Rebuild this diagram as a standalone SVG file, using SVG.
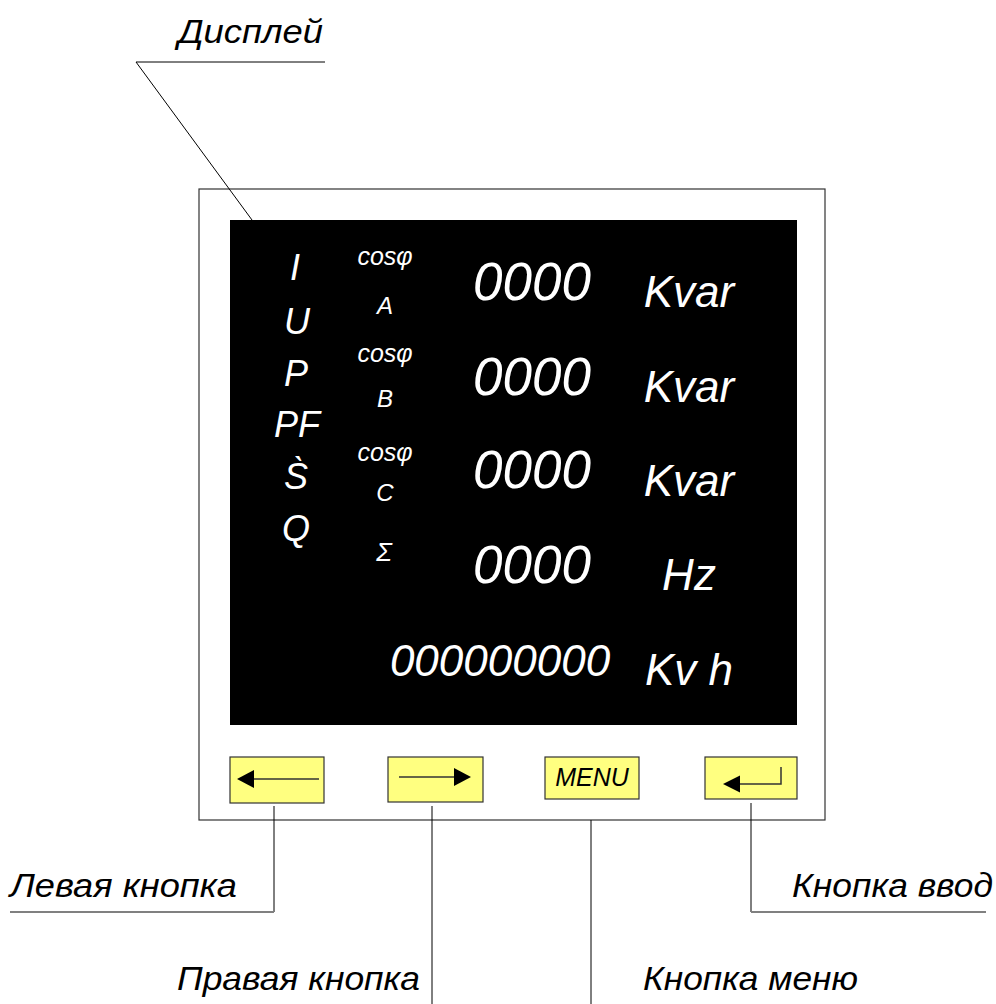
<svg xmlns="http://www.w3.org/2000/svg" width="996" height="1004" viewBox="0 0 996 1004">
<style>
.lbl{font-family:"Liberation Sans",Arial,sans-serif;font-style:italic;font-size:33px;fill:#000}
.w{font-family:"Liberation Sans",Arial,sans-serif;font-style:italic;fill:#fff;text-anchor:middle}
.btn{fill:#ffff80;stroke:#333;stroke-width:1.2}
.ld{stroke:#000;stroke-width:1;fill:none}
.ul{stroke:#808080;stroke-width:2;fill:none}
.ar{stroke:#333;stroke-width:1.5;fill:none}
.head{fill:#000}
</style>
<rect width="996" height="1004" fill="#fff"/>
<g id="panel">
<rect x="199" y="189" width="626" height="631" fill="#fff" stroke="#333" stroke-width="1.2"/>
</g>
<g id="display">
<rect x="230" y="220" width="567" height="505" fill="#000"/>
<text class="w" x="295" y="280" style="font-size:36px">I</text>
<text class="w" x="297" y="334" style="font-size:36px">U</text>
<text class="w" x="296" y="386" style="font-size:36px">P</text>
<text class="w" x="297" y="437" style="font-size:36px">PF</text>
<text class="w" x="296" y="489" style="font-size:36px">S&#768;</text>
<text class="w" x="296" y="541" style="font-size:36px">Q</text>
<text class="w" x="385" y="265" style="font-size:25px">cosφ</text>
<text class="w" x="385" y="314" style="font-size:24px">A</text>
<text class="w" x="385" y="362" style="font-size:25px">cosφ</text>
<text class="w" x="385" y="407" style="font-size:24px">B</text>
<text class="w" x="385" y="461" style="font-size:25px">cosφ</text>
<text class="w" x="385" y="501" style="font-size:24px">C</text>
<text class="w" x="384" y="561" style="font-size:26px">Σ</text>
<text class="w" x="532" y="300" style="font-size:53px">0000</text>
<text class="w" x="532" y="395" style="font-size:53px">0000</text>
<text class="w" x="532" y="488" style="font-size:53px">0000</text>
<text class="w" x="532" y="583" style="font-size:53px">0000</text>
<text class="w" x="500" y="676" style="font-size:44px">000000000</text>
<text class="w" x="689" y="307" style="font-size:44px">Kvar</text>
<text class="w" x="689" y="402" style="font-size:44px">Kvar</text>
<text class="w" x="689" y="496" style="font-size:44px">Kvar</text>
<text class="w" x="689" y="590" style="font-size:44px">Hz</text>
<text class="w" x="689" y="685" style="font-size:44px">Kv h</text>
</g>
<g id="btn-left">
<rect class="btn" x="230" y="757" width="94" height="46"/>
<line class="ar" x1="319" y1="779" x2="250" y2="779"/>
<polygon class="head" points="237,779 254,770 254,788"/>
</g>
<g id="btn-right">
<rect class="btn" x="388" y="757" width="95" height="45"/>
<line class="ar" x1="399" y1="777" x2="460" y2="777"/>
<polygon class="head" points="471,777 454,768 454,786"/>
</g>
<g id="btn-menu">
<rect class="btn" x="545" y="757" width="94" height="42"/>
<text x="592" y="786" style="font-family:'Liberation Sans',Arial,sans-serif;font-style:italic;font-size:25px;text-anchor:middle;fill:#000">MENU</text>
</g>
<g id="btn-enter">
<rect class="btn" x="705" y="757" width="92" height="42"/>
<polyline class="ar" points="781,767 781,784 735,784"/>
<polygon class="head" points="723,784 740,775.5 740,792.5"/>
</g>
<g id="labels">
<text class="lbl" x="178" y="43" textLength="145" lengthAdjust="spacingAndGlyphs">Дисплей</text>
<text class="lbl" x="10" y="897" textLength="227" lengthAdjust="spacingAndGlyphs">Левая кнопка</text>
<text class="lbl" x="177" y="990" textLength="243" lengthAdjust="spacingAndGlyphs">Правая кнопка</text>
<text class="lbl" x="643" y="990" textLength="215" lengthAdjust="spacingAndGlyphs">Кнопка меню</text>
<text class="lbl" x="792" y="897" textLength="201" lengthAdjust="spacingAndGlyphs">Кнопка ввод</text>
</g>
<g id="connectors">
<polyline class="ld" points="325,62 136,62 252,220"/>
<line class="ld" x1="274" y1="806" x2="274" y2="912"/>
<line class="ul" x1="10" y1="912" x2="274" y2="912"/>
<line class="ld" x1="432" y1="806" x2="432" y2="1004"/>
<line class="ld" x1="591" y1="820" x2="591" y2="1004"/>
<line class="ld" x1="751" y1="803" x2="751" y2="912"/>
<line class="ul" x1="751" y1="912" x2="986" y2="912"/>
</g>
</svg>
